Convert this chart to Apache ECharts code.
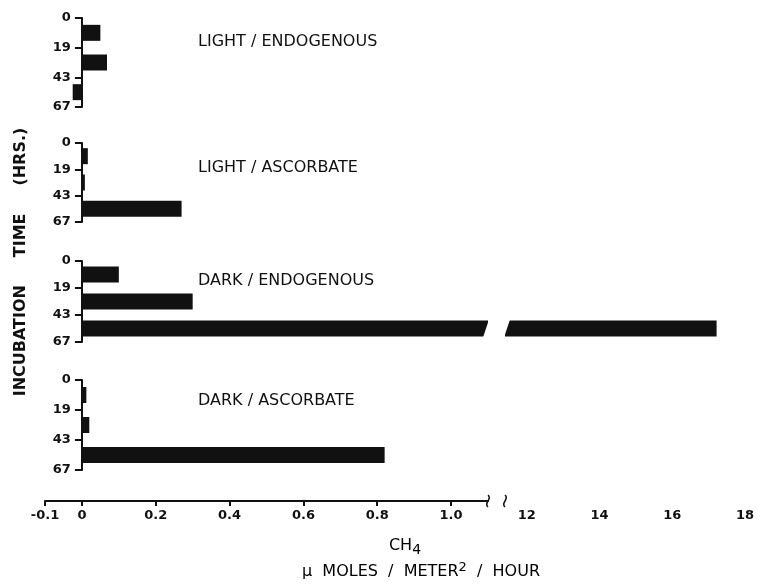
<!DOCTYPE html>
<html>
<head>
<meta charset="utf-8">
<script src="https://cdn.jsdelivr.net/npm/echarts@6/dist/echarts.min.js"></script>
<style>
  html, body { margin: 0; padding: 0; background: #fff; }
  #chart { width: 757px; height: 587px; }
</style>
</head>
<body>
<div id="chart"></div>
<script>
// data
const panelNames = ["LIGHT / ENDOGENOUS", "LIGHT / ASCORBATE", "DARK / ENDOGENOUS", "DARK / ASCORBATE"];
const intervals = ["0-19", "19-43", "43-67"];
const hourTicks = ["0", "19", "43", "67"];
const lightEndogenous = [0.05, 0.068, -0.025];
const lightAscorbate = [0.016, 0.008, 0.27];
const darkEndogenous = [0.10, 0.30, 17.1];
const darkAscorbate = [0.012, 0.02, 0.82];
const lowTicks = [-0.1, 0, 0.2, 0.4, 0.6, 0.8, 1.0];
const highTicks = [12, 14, 16, 18];

const panelData = [lightEndogenous, lightAscorbate, darkEndogenous, darkAscorbate];

// layout
const panelTop = [18, 143, 261, 380];
const panelHeight = [89, 79, 81, 90];
const lowRange = [-0.1, 1.1];
const highRange = [11.4, 18];
const leftGrid = { left: 45, width: 443 };
const rightGrid = { left: 505, width: 245 };
const FONT = "DejaVu Sans";
const INK = "#111";

// the hour axis stands on x = 0 of the low segment
const zeroOffset = -leftGrid.width * (0 - lowRange[0]) / (lowRange[1] - lowRange[0]);

const chart = echarts.init(document.getElementById("chart"));

const grids = [];
const xAxes = [];
const yAxes = [];
const series = [];

panelData.forEach((values, i) => {
  const isLast = i === panelData.length - 1;
  [leftGrid, rightGrid].forEach((g, side) => {
    const gridIndex = grids.length;
    grids.push({ left: g.left, width: g.width, top: panelTop[i], height: panelHeight[i] });

    const range = side === 0 ? lowRange : highRange;
    const ticks = side === 0 ? lowTicks : highTicks;
    xAxes.push({
      type: "value",
      gridIndex: gridIndex,
      min: range[0],
      max: range[1],
      show: isLast,
      position: "bottom",
      offset: 31,
      axisLine: { onZero: false, lineStyle: { color: INK, width: 2 } },
      axisTick: { customValues: ticks, length: 5, lineStyle: { color: INK, width: 2 } },
      axisLabel: {
        customValues: ticks,
        formatter: (v) => (side === 0 ? (v === 0 ? "0" : v.toFixed(1)) : String(v)),
        color: INK,
        fontFamily: FONT,
        fontWeight: "bold",
        fontSize: 13,
        margin: 8,
      },
      splitLine: { show: false },
    });

    // category axis that carries the bars
    const catIndex = yAxes.length;
    yAxes.push({
      type: "category",
      gridIndex: gridIndex,
      data: intervals,
      inverse: true,
      show: false,
      axisLine: { onZero: false },
    });

    // value axis for the hour ticks at the interval boundaries
    if (side === 0) {
      yAxes.push({
        type: "value",
        gridIndex: gridIndex,
        min: 0,
        max: 3,
        interval: 1,
        inverse: true,
        position: "left",
        offset: zeroOffset,
        axisLine: { show: true, onZero: false, lineStyle: { color: INK, width: 2 } },
        axisTick: { show: true, length: 7, lineStyle: { color: INK, width: 2 } },
        axisLabel: {
          formatter: (v) => hourTicks[v],
          color: INK,
          fontFamily: FONT,
          fontWeight: "bold",
          fontSize: 13,
          margin: 11,
        },
        splitLine: { show: false },
      });
    }

    series.push({
      type: "bar",
      name: panelNames[i],
      xAxisIndex: gridIndex,
      yAxisIndex: catIndex,
      data: values,
      barWidth: 16,
      clip: true,
      itemStyle: { color: INK },
      silent: true,
    });
  });
});

const textStyle = { fontFamily: FONT, fontSize: 16, fill: INK };

const graphics = panelNames.map((name, i) => ({
  type: "text",
  x: 198,
  y: [42, 168, 281, 401][i],
  style: Object.assign({ text: name, verticalAlign: "middle" }, textStyle),
}));

graphics.push({
  type: "text",
  x: 21,
  y: 262,
  rotation: Math.PI / 2,
  style: Object.assign({}, textStyle, {
    text: "INCUBATION     TIME     (HRS.)",
    fontWeight: "bold",
    fontSize: 16,
    align: "center",
    verticalAlign: "middle",
  }),
});

graphics.push({
  type: "text",
  x: 405,
  y: 546,
  style: {
    text: "{a|CH}{s|4}",
    align: "center",
    verticalAlign: "middle",
    rich: {
      a: { fontFamily: FONT, fontSize: 16, color: INK, lineHeight: 22, verticalAlign: "middle" },
      s: { fontFamily: FONT, fontSize: 14, color: INK, lineHeight: 22, verticalAlign: "bottom" },
    },
  },
});

graphics.push({
  type: "text",
  x: 421,
  y: 572,
  style: {
    text: "{a|\u03bc  MOLES  /  METER}{s|2}{a|  /  HOUR}",
    align: "center",
    verticalAlign: "middle",
    rich: {
      a: { fontFamily: FONT, fontSize: 16, color: INK, lineHeight: 22, verticalAlign: "middle" },
      s: { fontFamily: FONT, fontSize: 13, color: INK, lineHeight: 22, verticalAlign: "top" },
    },
  },
});

chart.setOption({
  animation: false,
  backgroundColor: "#fff",
  grid: grids,
  xAxis: xAxes,
  yAxis: yAxes,
  series: series,
});

// axis break marks and the cut in the long bar
const axisY = panelTop[3] + panelHeight[3] + 31;
const breakLeft = leftGrid.left + leftGrid.width;
const breakRight = rightGrid.left;
[breakLeft, breakRight].forEach((x) => {
  graphics.push({
    type: "bezierCurve",
    shape: { x1: x, y1: axisY - 6, cpx1: x + 5, cpy1: axisY - 2, cpx2: x - 5, cpy2: axisY + 2, x2: x, y2: axisY + 6 },
    style: { stroke: INK, lineWidth: 1.5, fill: null },
  });
});

const longBarY = chart.convertToPixel({ xAxisIndex: 4, yAxisIndex: series[4].yAxisIndex }, [0, 2])[1];
const barTop = longBarY - 8;
const barBottom = longBarY + 8;
graphics.push({
  type: "polygon",
  shape: { points: [[breakLeft + 1, barTop - 1], [breakLeft + 1, barBottom + 1], [breakLeft - 5, barBottom + 1]] },
  style: { fill: "#fff" },
  z: 10,
});
graphics.push({
  type: "polygon",
  shape: { points: [[breakRight - 1, barTop - 1], [breakRight + 5, barTop - 1], [breakRight - 1, barBottom + 1]] },
  style: { fill: "#fff" },
  z: 10,
});

chart.setOption({ graphic: graphics });
</script>
</body>
</html>
